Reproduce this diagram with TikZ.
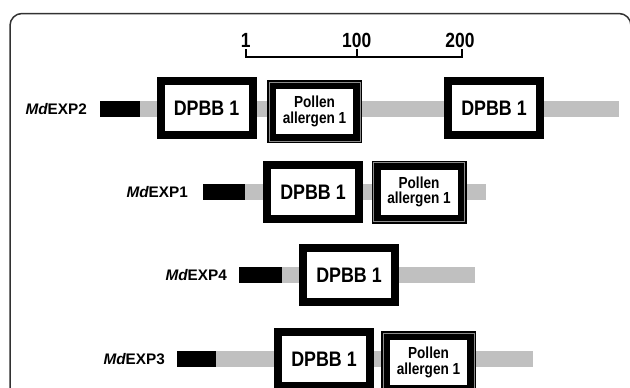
\documentclass[tikz,border=0pt]{standalone}
\usepackage{fontspec}
\setmainfont{Liberation Sans}
\newfontfamily\condfont[FakeStretch=0.85]{Liberation Sans}
\usetikzlibrary{calc}
\definecolor{barg}{RGB}{192,192,192}
\definecolor{framec}{RGB}{50,50,50}
\tikzset{
  greybar/.style={fill=barg},
  blackbar/.style={fill=black},
  dpbb/.style={draw=black, line width=8pt, fill=white, minimum width=92pt, minimum height=54pt,
    inner sep=0pt, font=\condfont\bfseries\fontsize{21}{22}\selectfont},
  pollen/.style={draw=black, line width=9pt, fill=white, minimum width=86pt, minimum height=54pt,
    inner sep=0pt, align=center, font=\condfont\bfseries\fontsize{16}{15.5}\selectfont},
  innerline/.style={draw=black!45, line width=0.8pt},
  gene/.style={anchor=east, inner sep=0pt, font=\bfseries\fontsize{15.3}{16}\selectfont},
  scaleline/.style={line width=2pt, line cap=rect},
  scalelab/.style={inner sep=0pt, font=\condfont\bfseries\fontsize{20.5}{20}\selectfont},
}
\begin{document}
\begin{tikzpicture}[x=1pt,y=-1pt]
\useasboundingbox (0,0) rectangle (630,388);
\clip (0,0) rectangle (630,388);
\fill[white] (0,0) rectangle (630,388);
% frame
\draw[framec, line width=1.5pt, rounded corners=12pt] (10,13.5) rectangle (631,430);
% scale
\coordinate (s1) at (245.7,56.5);
\coordinate (s100) at (356.7,56.5);
\coordinate (s200) at (461.7,56.5);
\draw[scaleline] ($(s1)+(0,-7)$) -- (s1) -- (s200) -- ($(s200)+(0,-7)$);
\draw[scaleline] (s100) -- ($(s100)+(0,-7)$);
\node[scalelab] (l1) at (245.7,40.5) {1};
\node[scalelab] (l100) at (356.7,40.5) {100};
\node[scalelab] (l200) at (460,40.5) {200};

% row MdEXP2
\fill[greybar] (140,101) rectangle (619,117);
\fill[blackbar] (100,101) rectangle (140,117);
\node[gene] (g2) at (87,109) {\itshape Md\upshape EXP2};
\node[dpbb] (d2a) at (206.5,108) {DPBB 1};
\node[pollen] (p2) at (314.5,111.5) {Pollen\\allergen 1};
\node[dpbb] (d2b) at (494,108) {DPBB 1};

% row MdEXP1
\fill[greybar] (245,184) rectangle (486,200);
\fill[blackbar] (203,184) rectangle (245,200);
\node[gene] (g1) at (188,192) {\itshape Md\upshape EXP1};
\node[dpbb] (d1) at (313,192) {DPBB 1};
\node[pollen] (p1) at (419,192) {Pollen\\allergen 1};

% row MdEXP4
\fill[greybar] (282,267) rectangle (475,283);
\fill[blackbar] (239,267) rectangle (282,283);
\node[gene] (g4) at (227,275) {\itshape Md\upshape EXP4};
\node[dpbb] (d4) at (349,275) {DPBB 1};

% row MdEXP3
\fill[greybar] (216,351) rectangle (533,367);
\fill[blackbar] (177,351) rectangle (216,367);
\node[gene] (g3) at (165,359) {\itshape Md\upshape EXP3};
\node[dpbb] (d3) at (324,359) {DPBB 1};
\node[pollen] (p3) at (428.5,362.5) {Pollen\\allergen 1};

\foreach \p in {p2,p1,p3}
  \draw[innerline] ([shift={(2,2)}]\p.north west) rectangle ([shift={(-2,-2)}]\p.south east);
\end{tikzpicture}
\end{document}
